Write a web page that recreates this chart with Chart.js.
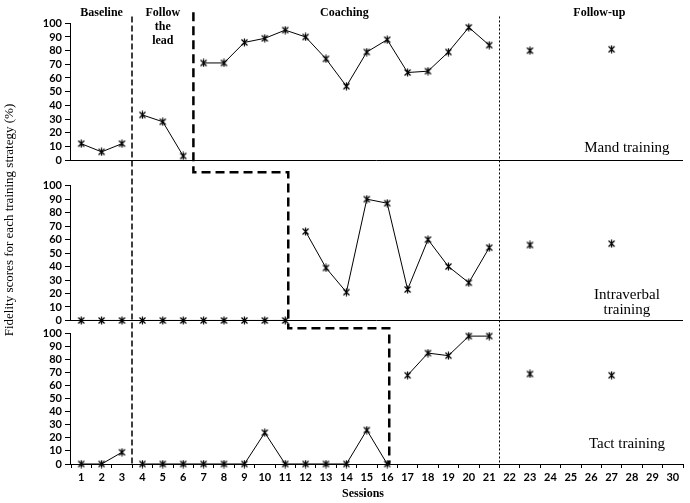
<!DOCTYPE html>
<html>
<head>
<meta charset="utf-8">
<script src="https://cdn.jsdelivr.net/npm/chart.js@4.4.1/dist/chart.umd.min.js"></script>
<style>
  body { margin: 0; background: #fff; }
  #wrap { width: 690px; height: 503px; position: relative; }
</style>
</head>
<body>
<div id="wrap"><canvas id="fidelity-chart"></canvas></div>
<script>
// 1. Data
const sessionLabels = ['1','2','3','4','5','6','7','8','9','10','11','12','13','14','15',
                       '16','17','18','19','20','21','22','23','24','25','26','27','28','29','30'];
const yTickValues = [0, 10, 20, 30, 40, 50, 60, 70, 80, 90, 100];
const followUpSessions = [23, 27];

// Mand training: baseline 1-3, follow the lead 4-6, coaching 7-21
const mandBaseline = [12, 6, 12];
const mandFollowLead = [33, 28, 3];
const mandCoaching = [71, 71, 86, 89, 95, 90, 74, 54, 79, 88, 64, 65, 79, 97, 84];
const mandFollowUp = [80, 81];

// Intraverbal training: baseline 1-3, follow the lead 4-11, coaching 12-21
const intraBaseline = [0, 0, 0];
const intraFollowLead = [0, 0, 0, 0, 0, 0, 0, 0];
const intraCoaching = [66, 39, 21, 90, 87, 23, 60, 40, 28, 54];
const intraFollowUp = [56, 57];

// Tact training: baseline 1-3, follow the lead 4-16, coaching 17-21
const tactBaseline = [0, 0, 9];
const tactFollowLead = [0, 0, 0, 0, 0, 0, 24, 0, 0, 0, 0, 26, 0];
const tactCoaching = [68, 85, 83, 98, 98];
const tactFollowUp = [69, 68];

// 2. Marker: asterisk like the original (X plus a vertical bar)
function makeAsterisk() {
    const c = document.createElement('canvas');
    c.width = 9; c.height = 9;
    const g = c.getContext('2d');
    g.strokeStyle = '#000';
    g.lineWidth = 1.2;
    g.beginPath();
    g.moveTo(1.5, 1.5); g.lineTo(7.5, 7.5);
    g.moveTo(7.5, 1.5); g.lineTo(1.5, 7.5);
    g.moveTo(4.5, 0.5); g.lineTo(4.5, 8.5);
    g.stroke();
    return c;
}
const asterisk = makeAsterisk();

function phase(startSession, values, axis) {
    return {
        data: values.map((v, i) => ({ x: String(startSession + i), y: v })),
        yAxisID: axis,
        borderColor: '#000',
        borderWidth: 1,
        pointStyle: asterisk,
        pointRadius: 4,
        tension: 0,
        clip: false
    };
}

function followUp(values, axis) {
    const ds = phase(1, [], axis);
    ds.data = followUpSessions.map((s, i) => ({ x: String(s), y: values[i] }));
    ds.showLine = false;
    return ds;
}

const datasets = [
    phase(1, mandBaseline, 'yMand'),
    phase(4, mandFollowLead, 'yMand'),
    phase(7, mandCoaching, 'yMand'),
    followUp(mandFollowUp, 'yMand'),
    phase(1, intraBaseline, 'yIntra'),
    phase(4, intraFollowLead, 'yIntra'),
    phase(12, intraCoaching, 'yIntra'),
    followUp(intraFollowUp, 'yIntra'),
    phase(1, tactBaseline, 'yTact'),
    phase(4, tactFollowLead, 'yTact'),
    phase(17, tactCoaching, 'yTact'),
    followUp(tactFollowUp, 'yTact')
];

// 3. Panel axes, phase change lines and labels
const serif = '"Liberation Serif", "Times New Roman", serif';

const panelFrame = {
    id: 'panelFrame',
    beforeDatasetsDraw(chart) {
        const { ctx, chartArea, scales } = chart;
        ctx.save();
        ctx.strokeStyle = '#000';
        ctx.lineWidth = 1;
        ['yMand', 'yIntra', 'yTact'].forEach(id => {
            const y = scales[id];
            const y0 = Math.round(y.getPixelForValue(0)) + 0.5;
            const x0 = Math.round(chartArea.left) - 0.5;
            ctx.beginPath();
            ctx.moveTo(x0, Math.round(y.getPixelForValue(100)));
            ctx.lineTo(x0, y0);
            ctx.lineTo(chartArea.right, y0);
            ctx.stroke();
        });
        ctx.restore();
    },
    afterDatasetsDraw(chart) {
        const { ctx, chartArea, scales } = chart;
        const x = scales.x, yM = scales.yMand, yI = scales.yIntra, yT = scales.yTact;
        const sx = s => x.getPixelForValue(s - 1);
        const bottom = yT.getPixelForValue(0);
        ctx.save();
        ctx.strokeStyle = '#000';

        // baseline -> follow the lead
        ctx.lineWidth = 1.5;
        ctx.setLineDash([6, 3]);
        ctx.beginPath();
        ctx.moveTo(Math.round(sx(3.5)), yM.getPixelForValue(105));
        ctx.lineTo(Math.round(sx(3.5)), bottom);
        ctx.stroke();

        // staggered start of coaching
        ctx.lineWidth = 2.5;
        ctx.setLineDash([9, 5]);
        const stepA = yI.getPixelForValue(110);
        const stepB = yT.getPixelForValue(104);
        ctx.beginPath();
        ctx.moveTo(sx(6.5), yM.getPixelForValue(108));
        ctx.lineTo(sx(6.5), stepA);
        ctx.lineTo(sx(11.15), stepA);
        ctx.lineTo(sx(11.15), stepB);
        ctx.lineTo(sx(16.1), stepB);
        ctx.lineTo(sx(16.1), bottom);
        ctx.stroke();

        // follow-up
        ctx.lineWidth = 1;
        ctx.setLineDash([2, 2]);
        ctx.beginPath();
        ctx.moveTo(Math.round(sx(21.5)) + 0.5, yM.getPixelForValue(105));
        ctx.lineTo(Math.round(sx(21.5)) + 0.5, bottom);
        ctx.stroke();
        ctx.setLineDash([]);

        // phase labels
        ctx.fillStyle = '#000';
        ctx.textAlign = 'center';
        ctx.textBaseline = 'middle';
        ctx.font = 'bold 12px ' + serif;
        const top = chartArea.top;
        ctx.fillText('Baseline', sx(2), top + 3);
        ctx.fillText('Follow', sx(5), top + 3);
        ctx.fillText('the', sx(5), top + 17);
        ctx.fillText('lead', sx(5), top + 31);
        ctx.fillText('Coaching', sx(13.9), top + 3);
        ctx.fillText('Follow-up', sx(26.4), top + 3);

        // panel names
        ctx.font = '15px ' + serif;
        ctx.fillText('Mand training', sx(27.75), yM.getPixelForValue(8.7));
        ctx.fillText('Intraverbal', sx(27.75), yI.getPixelForValue(19));
        ctx.fillText('training', sx(27.75), yI.getPixelForValue(8));
        ctx.fillText('Tact training', sx(27.75), yT.getPixelForValue(15));

        // axis titles
        ctx.font = 'bold 12px ' + serif;
        ctx.fillText('Sessions', 363, 494);
        ctx.font = '13px ' + serif;
        ctx.translate(10, 220);
        ctx.rotate(-Math.PI / 2);
        ctx.fillText('Fidelity scores for each training strategy (%)', 0, 0);
        ctx.restore();
    }
};

// 4. Axes
const tickFont = { family: 'Lato, "Liberation Sans", sans-serif', size: 11, weight: 'bold' };

function panelAxis(max, weight, stackWeight) {
    return {
        type: 'linear',
        position: 'left',
        stack: 'panels',
        stackWeight: stackWeight,
        weight: weight,
        min: 0,
        max: max,
        border: { display: false },
        grid: { drawOnChartArea: false, tickLength: 6, color: '#000' },
        ticks: { color: '#000', font: tickFont, padding: 3, autoSkip: false, sampleSize: 11 },
        afterBuildTicks: scale => { scale.ticks = yTickValues.map(v => ({ value: v })); },
        afterFit: scale => { scale.width = 71; }
    };
}

new Chart(document.getElementById('fidelity-chart'), {
    type: 'line',
    data: { labels: sessionLabels, datasets: datasets },
    options: {
        responsive: true,
        maintainAspectRatio: false,
        animation: false,
        layout: { padding: { top: 5, right: 7, bottom: 0, left: 0 } },
        plugins: { legend: { display: false }, tooltip: { enabled: false } },
        scales: {
            x: {
                type: 'category',
                offset: true,
                border: { display: true, color: '#000', width: 1 },
                grid: { offset: true, drawOnChartArea: false, tickLength: 4, color: '#000' },
                ticks: { color: '#000', font: tickFont, padding: 3, autoSkip: false, maxRotation: 0 },
                afterFit: scale => { scale.height = 39; }
            },
            yMand: panelAxis(110, 3, 152),
            yIntra: panelAxis(119, 2, 162),
            yTact: panelAxis(110, 1, 145)
        }
    },
    plugins: [panelFrame]
});
</script>
</body>
</html>
